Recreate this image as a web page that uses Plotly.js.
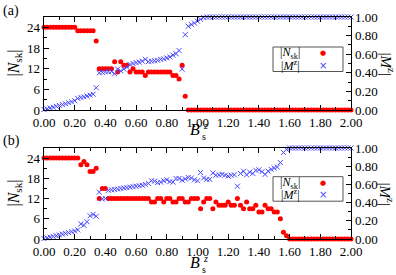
<!DOCTYPE html>
<html>
<head>
<meta charset="utf-8">
<script src="https://cdn.plot.ly/plotly-3.0.1.min.js"></script>
<style>html,body{margin:0;padding:0;background:#fff;}#chart{width:396px;height:275px;}</style>
</head>
<body>
<div id="chart"></div>
<script>
// Magnetic field values B_s^z
const B = [0.00,0.02,0.04,0.06,0.08,0.10,0.12,0.14,0.16,0.18,
0.20,0.22,0.24,0.26,0.28,0.30,0.32,0.34,0.36,0.38,
0.40,0.42,0.44,0.46,0.48,0.50,0.52,0.54,0.56,0.58,
0.60,0.62,0.64,0.66,0.68,0.70,0.72,0.74,0.76,0.78,
0.80,0.82,0.84,0.86,0.88,0.90,0.92,0.94,0.96,0.98,
1.00,1.02,1.04,1.06,1.08,1.10,1.12,1.14,1.16,1.18,
1.20,1.22,1.24,1.26,1.28,1.30,1.32,1.34,1.36,1.38,
1.40,1.42,1.44,1.46,1.48,1.50,1.52,1.54,1.56,1.58,
1.60,1.62,1.64,1.66,1.68,1.70,1.72,1.74,1.76,1.78,
1.80,1.82,1.84,1.86,1.88,1.90,1.92,1.94,1.96,1.98,2.00];

// Panel (a)
const Nsk_a = [24,24,24,24,24,24,24,24,24,24,
24,23,23,23,23,23,23,20,12,12,
12,12,12,14,11,14,13,13,11,12,
11,11,11,10,11,11,11,11,11,11,
11,11,10,10,9,13,4,0,0,0,
0,0,0,0,0,0,0,0,0,0,
0,0,0,0,0,0,0,0,0,0,
0,0,0,0,0,0,0,0,0,0,
0,0,0,0,0,0,0,0,0,0,
0,0,0,0,0,0,0,0,0,0,0];
const Mz_a = [0.005,0.012,0.022,0.030,0.040,0.048,0.058,0.067,0.078,0.088,
0.100,0.125,0.135,0.142,0.150,0.160,0.170,0.240,0.400,0.405,
0.410,0.412,0.415,0.390,0.440,0.420,0.440,0.460,0.490,0.500,
0.510,0.515,0.525,0.545,0.520,0.525,0.530,0.535,0.545,0.550,
0.560,0.570,0.590,0.605,0.640,0.440,0.810,0.900,0.920,0.935,
0.955,0.975,0.995,1,1,1,1,1,1,1,
1,1,1,1,1,1,1,1,1,1,
1,1,1,1,1,1,1,1,1,1,
1,1,1,1,1,1,1,1,1,1,
1,1,1,1,1,1,1,1,1,1,1];

// Panel (b)
const Nsk_b = [24,24,24,24,24,24,24,24,24,24,
24,24,22,23,22,20,20,21,12,15,
15,12,12,12,12,12,12,12,12,12,
12,12,12,12,12,11,11,12,12,11,
12,12,11,11,12,12,11,11,12,12,
12,9,11,12,12,9,11,10,10,10,
11,10,10,12,10,9,11,9,9,10,
8,8,10,9,9,8,8,6,2,1,
0,0,0,0,0,0,0,0,0,0,
0,0,0,0,0,0,0,0,0,0,0];
const Mz_b = [0.005,0.012,0.020,0.028,0.036,0.045,0.053,0.062,0.070,0.080,
0.088,0.100,0.165,0.150,0.190,0.255,0.270,0.250,0.515,0.440,
0.445,0.535,0.540,0.545,0.550,0.555,0.560,0.565,0.570,0.575,
0.580,0.585,0.590,0.600,0.610,0.640,0.635,0.620,0.625,0.640,
0.650,0.630,0.625,0.665,0.665,0.645,0.660,0.675,0.670,0.650,
0.640,0.730,0.670,0.655,0.655,0.725,0.700,0.705,0.710,0.700,
0.690,0.700,0.705,0.580,0.720,0.745,0.705,0.735,0.720,0.755,
0.760,0.740,0.710,0.745,0.765,0.780,0.790,0.840,0.950,0.985,
1,1,1,1,1,1,1,1,1,1,
1,1,1,1,1,1,1,1,1,1,1];

const xTicks = [0,0.2,0.4,0.6,0.8,1.0,1.2,1.4,1.6,1.8,2.0];
const nTicks = [0,6,12,18,24];
const mTicks = [0,0.2,0.4,0.6,0.8,1.0];

const RED = '#ff0000', BLUE = '#4646ff';
const FONT = 'Liberation Serif, Times New Roman, serif';

function redTrace(y, xa, ya){
  return {x:B, y:y, xaxis:xa, yaxis:ya, type:'scatter', mode:'markers', cliponaxis:false,
    marker:{symbol:'circle', size:5, color:RED, line:{width:0}}, showlegend:false};
}
function blueTrace(y, xa, ya){
  return {x:B, y:y, xaxis:xa, yaxis:ya, type:'scatter', mode:'markers', cliponaxis:false,
    marker:{symbol:'x-thin', size:5, line:{width:1, color:BLUE}, color:BLUE}, showlegend:false};
}

const data = [
  blueTrace(Mz_a,'x','y2'), redTrace(Nsk_a,'x','y'),
  blueTrace(Mz_b,'x2','y4'), redTrace(Nsk_b,'x2','y3')
];

const tickfont = {family:FONT, size:13, color:'#000'};
function xAxis(anchor){
  return {anchor:anchor, domain:[0,1], range:[0,2], tickvals:xTicks, tickformat:'.2f',
    ticks:'inside', ticklen:5, tickwidth:1, tickcolor:'#000',
    minor:{dtick:0.1, ticks:'inside', ticklen:3, tickwidth:1, tickcolor:'#000'},
    showline:true, linecolor:'#000', linewidth:1.3, mirror:'ticks',
    showgrid:false, zeroline:false, tickfont:tickfont};
}
function yLeft(dom, anchor){
  return {anchor:anchor, domain:dom, range:[0,27], tickvals:nTicks,
    ticks:'inside', ticklen:5, tickwidth:1, tickcolor:'#000',
    minor:{dtick:3, ticks:'inside', ticklen:3, tickwidth:1, tickcolor:'#000'},
    showline:true, linecolor:'#000', linewidth:1.3,
    showgrid:false, zeroline:false, tickfont:tickfont};
}
function yRight(over, anchor){
  return {anchor:anchor, overlaying:over, side:'right', range:[0,1], tickvals:mTicks, tickformat:'.2f',
    ticks:'inside', ticklen:5, tickwidth:1, tickcolor:'#000',
    minor:{dtick:0.1, ticks:'inside', ticklen:3, tickwidth:1, tickcolor:'#000'},
    showline:true, linecolor:'#000', linewidth:1.3,
    showgrid:false, zeroline:false, tickfont:tickfont};
}

// pixel -> paper helpers for layout placement
const PX = x => (x-44)/307;
const PY = y => (239-y)/222;

function ann(text, x, y, opts){
  return Object.assign({text:text, x:PX(x), y:PY(y), xref:'paper', yref:'paper', showarrow:false,
    xanchor:'center', yanchor:'middle', font:{family:FONT, size:14, color:'#000'}}, opts||{});
}

const annotations = [];
const shapes = [];
[[0,0],[1,131]].forEach(([k,dy]) => {
  const lbl = k===0 ? '(a)' : '(b)';
  annotations.push(ann(lbl, 11, 11+dy + (k===1?-1:0), {font:{family:FONT,size:14,color:'#000'}}));
  const xt = k===0 ? 129 : 262;
  annotations.push(ann('<i>B</i>', 195, xt, {font:{family:FONT,size:16,color:'#000'}}));
  annotations.push(ann('<i>z</i>', 205, xt-4, {font:{family:FONT,size:10,color:'#000'}}));
  annotations.push(ann('s', 204, xt+7, {font:{family:FONT,size:10,color:'#000'}}));
  const cy = k===0 ? 63.5 : 193.5;
  annotations.push(ann('|<i>N</i><sub>sk</sub>|', 14, cy, {textangle:-90, font:{family:FONT,size:16,color:'#000'}}));
  annotations.push(ann('|<i>M</i><sup>z</sup>|', 387, cy, {textangle:90, font:{family:FONT,size:15,color:'#000'}}));
  // legend
  const top = k===0 ? 47 : 176.7;
  shapes.push({type:'rect', xref:'paper', yref:'paper', x0:PX(273), x1:PX(343), y0:PY(top+24.5), y1:PY(top),
    line:{color:'#555', width:1}, fillcolor:'rgba(255,255,255,0)'});
  annotations.push(ann('|<i>N</i><sub>sk</sub>|', 302, top+6, {xanchor:'right', font:{family:FONT,size:12,color:'#000'}}));
  annotations.push(ann('|<i>M</i><sup>z</sup>|', 302, top+18, {xanchor:'right', font:{family:FONT,size:12,color:'#000'}}));
  annotations.push(ann('●', 323, top+6, {font:{family:'DejaVu Sans',size:7,color:RED}}));
  annotations.push(ann('×', 323, top+18, {font:{family:'DejaVu Sans',size:10,color:BLUE}}));
});

const layout = {
  width:396, height:275,
  margin:{l:44, r:45, t:17, b:36, pad:0},
  paper_bgcolor:'#fff', plot_bgcolor:'#fff',
  showlegend:false,
  xaxis: xAxis('y'),
  yaxis: yLeft([0.581,1],'x'),
  yaxis2: yRight('y','x'),
  xaxis2: xAxis('y3'),
  yaxis3: yLeft([0,0.410],'x2'),
  yaxis4: yRight('y3','x2'),
  annotations: annotations,
  shapes: shapes
};

Plotly.newPlot('chart', data, layout, {staticPlot:true, displayModeBar:false});
</script>
</body>
</html>
